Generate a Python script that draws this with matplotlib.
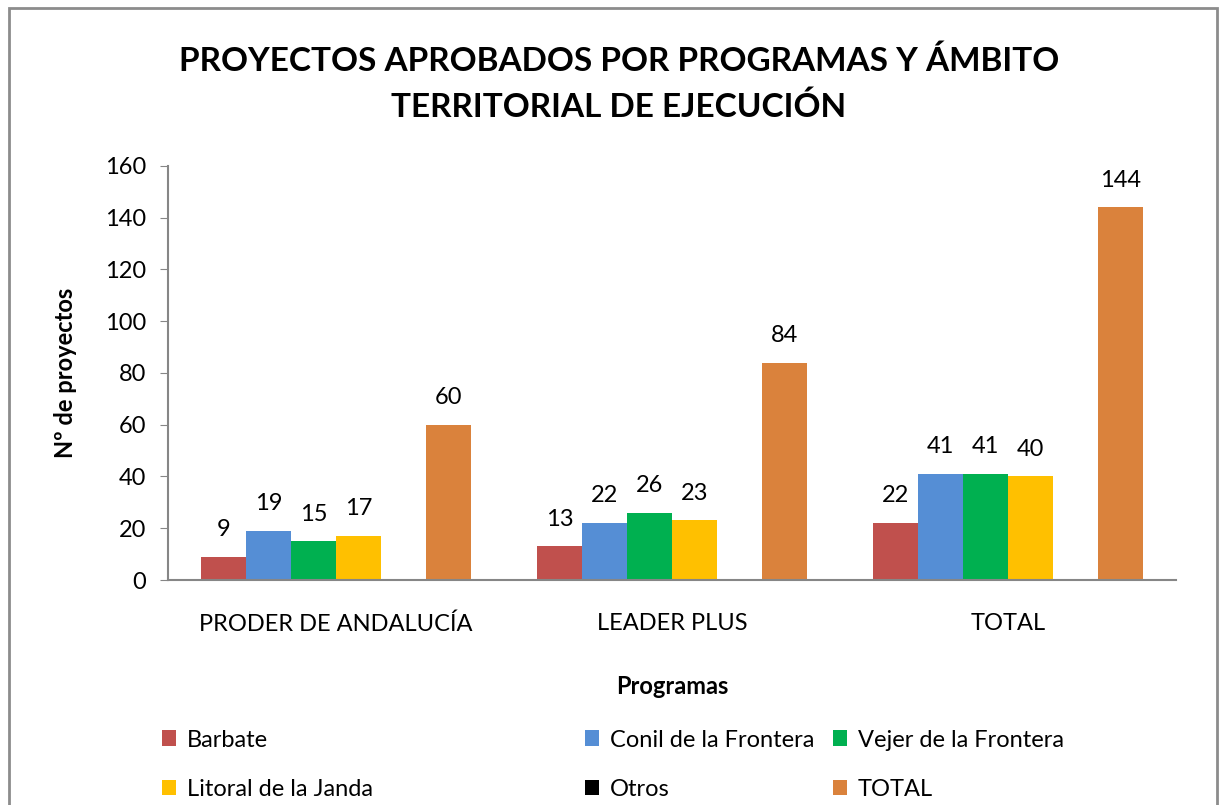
import numpy as np
import matplotlib.pyplot as plt
from matplotlib.patches import Rectangle

programas = ["PRODER DE ANDALUCÍA", "LEADER PLUS", "TOTAL"]
series = ["Barbate", "Conil de la Frontera", "Vejer de la Frontera",
          "Litoral de la Janda", "Otros", "TOTAL"]
barbate = [9, 13, 22]
conil = [19, 22, 41]
vejer = [15, 26, 41]
litoral = [17, 23, 40]
otros = [0, 0, 0]
total = [60, 84, 144]
colores = ["#C0504D", "#558ED5", "#00B050", "#FFC000", "#000000", "#DA823C"]

plt.rcParams['font.family'] = ['Lato', 'DejaVu Sans']

fig = plt.figure(figsize=(12.23, 8.05), dpi=100)
fig.patches.append(Rectangle((0.007, -0.01), 0.988, 1.0, transform=fig.transFigure,
                             fill=False, edgecolor="#8C8C8C", linewidth=2))
ax = fig.add_axes([0.1374, 0.2795, 0.8242, 0.5143])

x = np.arange(len(programas))
w = 0.134
datos = [barbate, conil, vejer, litoral, otros, total]
handles = []
for i, (nombre, vals) in enumerate(zip(series, datos)):
    pos = x - 2.5 * w + i * w
    bars = ax.bar(pos, vals, width=w, color=colores[i], label=nombre)
    handles.append(bars)
    if nombre != "Otros":
        for b, v in zip(bars, vals):
            ax.annotate(str(v), (b.get_x() + b.get_width() / 2, v),
                        xytext=(0, 12), textcoords="offset points",
                        ha="center", va="bottom", fontsize=17)

ax.set_xlim(-0.5, 2.5)
ax.set_ylim(0, 160)
ax.set_yticks(range(0, 161, 20))
ax.set_xticks(x)
ax.set_xticklabels(programas, fontsize=17)
ax.tick_params(axis="y", labelsize=17, color="#868686", length=6, direction="out", pad=10)
ax.tick_params(axis="x", length=0, pad=24)
for s in ["top", "right"]:
    ax.spines[s].set_visible(False)
for s in ["left", "bottom"]:
    ax.spines[s].set_color("#868686")
    ax.spines[s].set_linewidth(1.5)

ax.set_xlabel("Programas", fontsize=17, fontweight="bold", labelpad=29)
ax.set_ylabel("Nº de proyectos", fontsize=17, fontweight="bold", labelpad=20)

fig.suptitle("PROYECTOS APROBADOS POR PROGRAMAS Y ÁMBITO\nTERRITORIAL DE EJECUCIÓN",
             x=0.506, y=0.943, fontsize=24, fontweight="bold", linespacing=1.6)

# una leyenda por columna, como en el original
col_x = [0.115, 0.461, 0.664]
for c, cx in enumerate(col_x):
    hs = [handles[c], handles[c + 3]]
    fig.legend(hs, [series[c], series[c + 3]], loc="lower left",
               bbox_to_anchor=(cx, -0.02), frameon=False, fontsize=17,
               handlelength=0.6, handleheight=0.65, handletextpad=0.45,
               labelspacing=1.2)

fig.savefig("out.png", dpi=100)
